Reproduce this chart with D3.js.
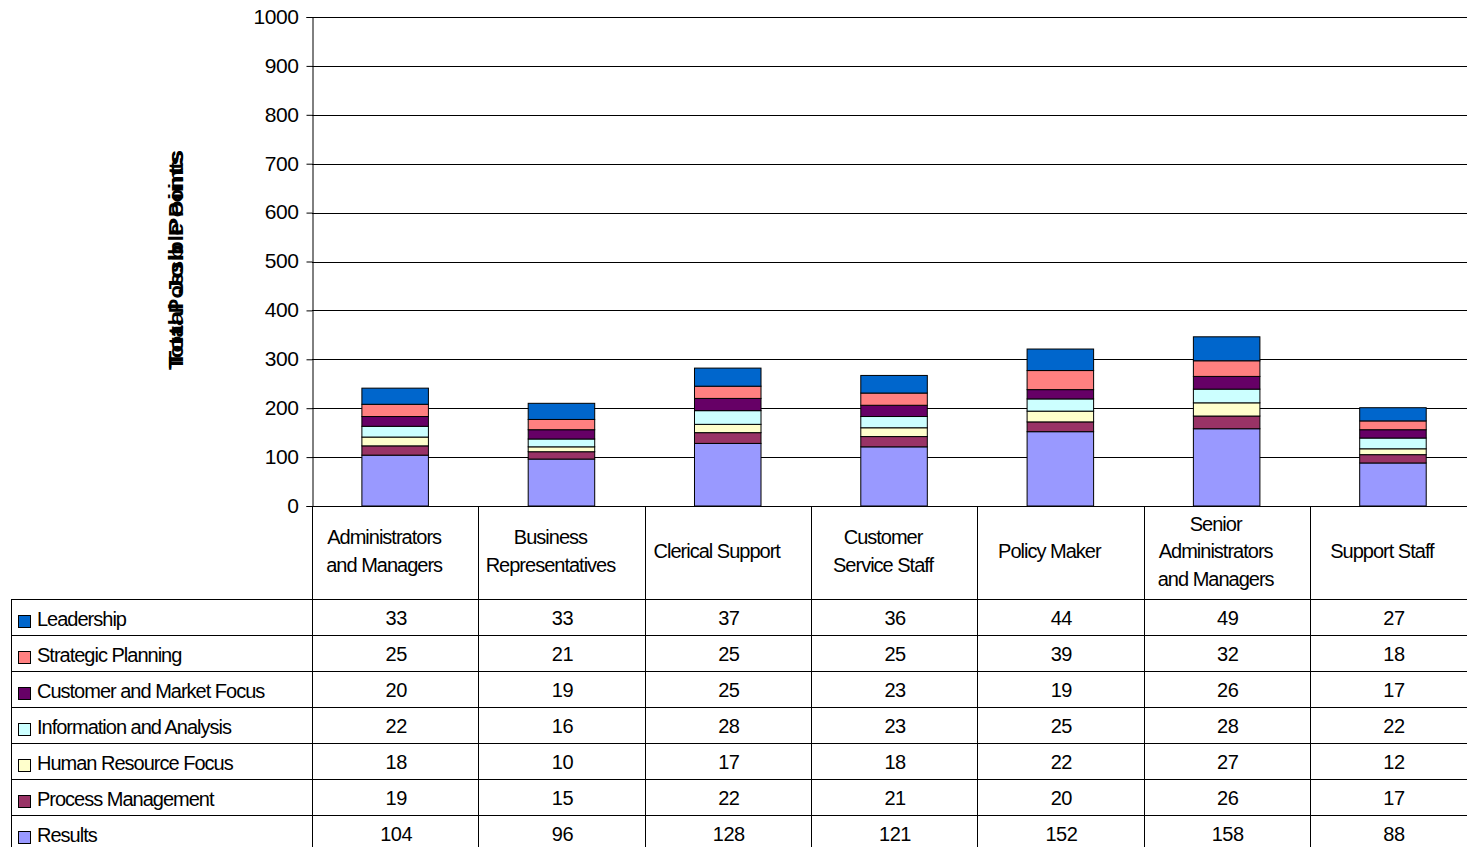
<!DOCTYPE html>
<html>
<head>
<meta charset="utf-8">
<script src="https://cdn.jsdelivr.net/npm/d3@7/dist/d3.min.js"></script>
<style>
  html, body { margin: 0; padding: 0; background: #fff; }
  svg { display: block; }
  text { font-family: "Liberation Sans", Arial, sans-serif; fill: #000; }
</style>
</head>
<body>
<svg id="chart" width="1467" height="847"></svg>
<script>
// Job categories along the x axis
const categories = [
  "Administrators and Managers",
  "Business Representatives",
  "Clerical Support",
  "Customer Service Staff",
  "Policy Maker",
  "Senior Administrators and Managers",
  "Support Staff"
];
// Wrapped header text for each category cell
const categoryLines = [
  ["Administrators", "and Managers"],
  ["Business", "Representatives"],
  ["Clerical Support"],
  ["Customer", "Service Staff"],
  ["Policy Maker"],
  ["Senior", "Administrators", "and Managers"],
  ["Support Staff"]
];
// Stack order, bottom to top
const seriesNames = [
  "Results",
  "Process Management",
  "Human Resource Focus",
  "Information and Analysis",
  "Customer and Market Focus",
  "Strategic Planning",
  "Leadership"
];
const seriesColors = ["#9999FF", "#993366", "#FFFFCC", "#CCFFFF", "#660066", "#FF8080", "#0066CC"];

const results            = [104, 96, 128, 121, 152, 158, 88];
const processManagement  = [19, 15, 22, 21, 20, 26, 17];
const humanResourceFocus = [18, 10, 17, 18, 22, 27, 12];
const infoAndAnalysis    = [22, 16, 28, 23, 25, 28, 22];
const customerFocus      = [20, 19, 25, 23, 19, 26, 17];
const strategicPlanning  = [25, 21, 25, 25, 39, 32, 18];
const leadership         = [33, 33, 37, 36, 44, 49, 27];

const yTicks = [0, 100, 200, 300, 400, 500, 600, 700, 800, 900, 1000];

const seriesValues = [results, processManagement, humanResourceFocus, infoAndAnalysis,
                      customerFocus, strategicPlanning, leadership];

const rows = categories.map((c, i) => {
  const r = { category: c };
  seriesNames.forEach((s, k) => { r[s] = seriesValues[k][i]; });
  return r;
});

const svg = d3.select("#chart");

const plotLeft = 312, plotTop = 17, plotBottom = 506;
const step = 166.3;
const plotRight = plotLeft + step * categories.length;

const x = d3.scaleBand().domain(categories).range([plotLeft, plotRight]).paddingInner(0).paddingOuter(0);
const y = d3.scaleLinear().domain([0, 1000]).range([plotBottom, plotTop]);
const color = d3.scaleOrdinal().domain(seriesNames).range(seriesColors);

// Gridlines
svg.append("g")
  .selectAll("line")
  .data(yTicks.filter(t => t > 0))
  .join("line")
  .attr("x1", plotLeft).attr("x2", plotRight)
  .attr("y1", d => Math.round(y(d)) + 0.5).attr("y2", d => Math.round(y(d)) + 0.5)
  .attr("stroke", "#000").attr("stroke-width", 1);

// Y axis
const yAxis = svg.append("g")
  .attr("transform", `translate(${plotLeft + 0.5},0)`)
  .call(d3.axisLeft(y).tickValues(yTicks).tickSize(6).tickPadding(8).tickFormat(d3.format("d")));
yAxis.select(".domain").attr("stroke", "#000");
yAxis.selectAll(".tick line").attr("stroke", "#000");
yAxis.selectAll(".tick text")
  .style("font-size", "21px")
  .style("letter-spacing", "-0.4px")
  .attr("dy", "0.3em");

// Axis title (two overlapping captions)
const titleG = svg.append("g").attr("transform", "translate(183,370) rotate(-90)");
["Total Possible Points", "Total Job Points"].forEach((t, i) => {
  titleG.append("text")
    .attr("x", i * 2).attr("y", 0)
    .attr("textLength", 220 - i * 2)
    .attr("lengthAdjust", "spacingAndGlyphs")
    .style("font-size", "20px")
    .style("font-weight", "bold")
    .text(t);
});

// Stacked bars
const stack = d3.stack().keys(seriesNames);
const stacked = stack(rows);
const barW = step * 0.4;

svg.append("g")
  .selectAll("g")
  .data(stacked)
  .join("g")
  .attr("fill", d => color(d.key))
  .selectAll("rect")
  .data(d => d)
  .join("rect")
  .attr("x", d => x(d.data.category) + (step - barW) / 2)
  .attr("width", barW)
  .attr("y", d => y(d[1]))
  .attr("height", d => y(d[0]) - y(d[1]))
  .attr("stroke", "#000")
  .attr("stroke-width", 1);

// X axis baseline
svg.append("line")
  .attr("x1", plotLeft).attr("x2", plotRight)
  .attr("y1", plotBottom + 0.5).attr("y2", plotBottom + 0.5)
  .attr("stroke", "#000");

// Data table
const rowH = 36;
const tableTop = 599;
const tableLeft = 11;
const tableRows = seriesNames.slice().reverse();
const tableBottom = tableTop + rowH * tableRows.length;

const tbl = svg.append("g");

// Vertical column lines (header + body)
tbl.selectAll("line.v")
  .data(categories.concat(["__end"]))
  .join("line")
  .attr("class", "v")
  .attr("x1", (d, i) => Math.round(plotLeft + i * step) + 0.5)
  .attr("x2", (d, i) => Math.round(plotLeft + i * step) + 0.5)
  .attr("y1", plotBottom).attr("y2", tableBottom)
  .attr("stroke", "#000");

// Left border of legend column
tbl.append("line")
  .attr("x1", tableLeft + 0.5).attr("x2", tableLeft + 0.5)
  .attr("y1", tableTop).attr("y2", tableBottom)
  .attr("stroke", "#000");

// Horizontal row lines
tbl.selectAll("line.h")
  .data(d3.range(tableRows.length + 1))
  .join("line")
  .attr("class", "h")
  .attr("x1", tableLeft).attr("x2", plotRight)
  .attr("y1", d => tableTop + d * rowH + 0.5).attr("y2", d => tableTop + d * rowH + 0.5)
  .attr("stroke", "#000");

// Category header cells
tbl.selectAll("text.cat")
  .data(categoryLines)
  .join("text")
  .attr("class", "cat")
  .attr("text-anchor", "middle")
  .style("font-size", "20px")
  .style("letter-spacing", "-1px")
  .each(function (lines, i) {
    const cx = x(categories[i]) + step / 2 - 11;
    const lh = 27.5;
    const firstY = 551 - (lines.length - 1) * lh / 2;
    d3.select(this).selectAll("tspan")
      .data(lines)
      .join("tspan")
      .attr("x", cx)
      .attr("y", (d, k) => firstY + k * lh)
      .attr("dy", "0.35em")
      .text(d => d);
  });

// Legend keys and series names
const rowG = tbl.selectAll("g.row")
  .data(tableRows)
  .join("g")
  .attr("class", "row")
  .attr("transform", (d, i) => `translate(0,${tableTop + i * rowH})`);

rowG.append("rect")
  .attr("x", 18.5).attr("y", 16.5)
  .attr("width", 12).attr("height", 12)
  .attr("fill", d => color(d))
  .attr("stroke", "#000");

rowG.append("text")
  .attr("x", 37).attr("y", 27)
  .style("font-size", "20px")
  .style("letter-spacing", "-1px")
  .text(d => d);

// Values per category
rowG.selectAll("text.val")
  .data(s => categories.map((c, i) => ({ c, v: seriesValues[seriesNames.indexOf(s)][i] })))
  .join("text")
  .attr("class", "val")
  .attr("x", d => x(d.c) + step / 2 + 1)
  .attr("y", 26)
  .attr("text-anchor", "middle")
  .style("font-size", "20px")
  .style("letter-spacing", "-0.5px")
  .text(d => d.v);
</script>
</body>
</html>
